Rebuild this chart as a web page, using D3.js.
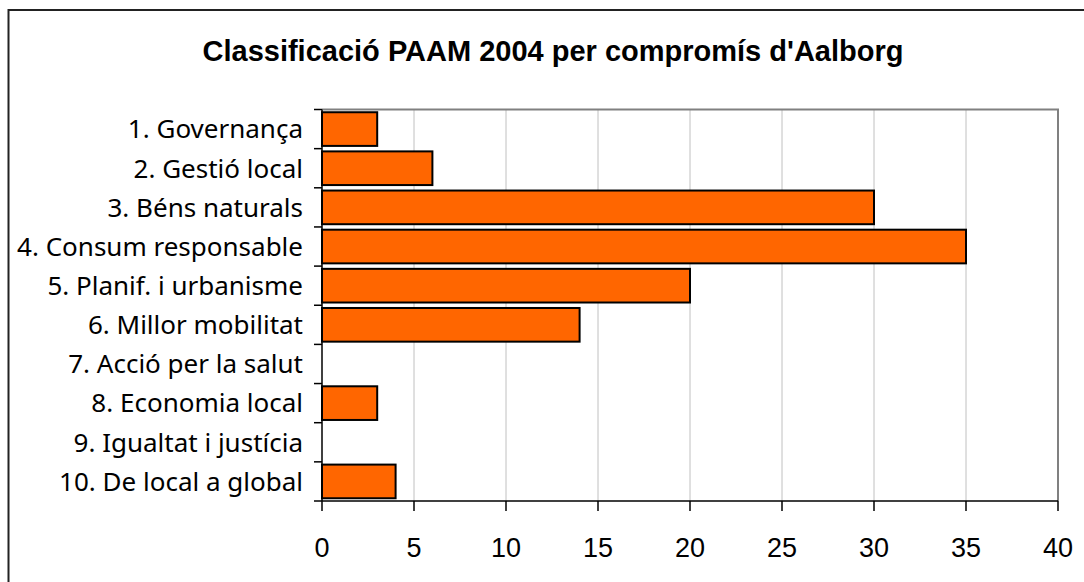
<!DOCTYPE html>
<html lang="ca">
<head>
<meta charset="utf-8" />
<title>Classificació PAAM 2004 per compromís d'Aalborg</title>
<script src="https://d3js.org/d3.v7.min.js"></script>
<style>
  html, body { margin: 0; padding: 0; background: #fff; overflow: hidden; }
  svg { display: block; }
</style>
</head>
<body>
<script>
// data
const categories = [
  "1. Governança",
  "2. Gestió local",
  "3. Béns naturals",
  "4. Consum responsable",
  "5. Planif. i urbanisme",
  "6. Millor mobilitat",
  "7. Acció per la salut",
  "8. Economia local",
  "9. Igualtat i justícia",
  "10. De local a global"
];
const values = [3, 6, 30, 35, 20, 14, 0, 3, 0, 4];
const xTicks = [0, 5, 10, 15, 20, 25, 30, 35, 40];

const W = 1084, H = 582;
const plot = { left: 322, right: 1058, top: 109.5, bottom: 501 };

const svg = d3.select("body").append("svg")
  .attr("width", W).attr("height", H);

// outer frame (right & bottom edges fall outside the picture)
svg.append("rect")
  .attr("x", 8.5).attr("y", 10)
  .attr("width", 1090).attr("height", 600)
  .attr("fill", "#fff").attr("stroke", "#222").attr("stroke-width", 2);

svg.append("text")
  .attr("x", 553).attr("y", 61)
  .attr("text-anchor", "middle")
  .style("font-family", "'Liberation Sans', Arial, sans-serif")
  .style("font-weight", "bold")
  .style("font-size", "29px")
  .text("Classificació PAAM 2004 per compromís d'Aalborg");

const x = d3.scaleLinear().domain([0, 40]).range([plot.left, plot.right]);
const y = d3.scaleBand().domain(categories).range([plot.top, plot.bottom]).paddingInner(0.14).paddingOuter(0.07);
const yEdge = d3.scaleLinear().domain([0, categories.length]).range([plot.top, plot.bottom]);

// gridlines
svg.append("g").selectAll("line")
  .data(xTicks.slice(1, -1))
  .enter().append("line")
  .attr("x1", d => x(d)).attr("x2", d => x(d))
  .attr("y1", plot.top).attr("y2", plot.bottom)
  .attr("stroke", "#c0c0c0").attr("stroke-width", 1);

// plot frame: top & right gray
svg.append("path")
  .attr("d", `M${plot.left},${plot.top}H${plot.right}V${plot.bottom}`)
  .attr("fill", "none").attr("stroke", "#808080").attr("stroke-width", 2);

// bars
svg.append("g").selectAll("rect")
  .data(values.map((v, i) => ({ v, c: categories[i] })).filter(d => d.v > 0))
  .enter().append("rect")
  .attr("x", x(0))
  .attr("y", d => y(d.c))
  .attr("width", d => x(d.v) - x(0))
  .attr("height", y.bandwidth())
  .attr("fill", "#ff6600")
  .attr("stroke", "#000").attr("stroke-width", 2);

// y axis line + ticks at band edges
const yAxis = svg.append("g");
yAxis.append("line")
  .attr("x1", plot.left).attr("x2", plot.left)
  .attr("y1", plot.top).attr("y2", plot.bottom)
  .attr("stroke", "#000").attr("stroke-width", 1.5);
yAxis.selectAll(".yt")
  .data(d3.range(categories.length + 1))
  .enter().append("line")
  .attr("x1", plot.left - 8).attr("x2", plot.left)
  .attr("y1", d => yEdge(d)).attr("y2", d => yEdge(d))
  .attr("stroke", "#000").attr("stroke-width", 1.5);
yAxis.selectAll("text")
  .data(categories)
  .enter().append("text")
  .attr("x", 303)
  .attr("y", d => y(d) + y.bandwidth() / 2)
  .attr("dy", "0.36em")
  .attr("text-anchor", "end")
  .style("font-family", "'Noto Sans', Tahoma, sans-serif")
  .style("font-size", "26px")
  .attr("fill", "#000")
  .text(d => d);

// x axis
const xAxis = svg.append("g");
xAxis.append("line")
  .attr("x1", plot.left).attr("x2", plot.right)
  .attr("y1", plot.bottom).attr("y2", plot.bottom)
  .attr("stroke", "#000").attr("stroke-width", 1.5);
xAxis.selectAll(".xt")
  .data(xTicks)
  .enter().append("line")
  .attr("x1", d => x(d)).attr("x2", d => x(d))
  .attr("y1", plot.bottom).attr("y2", plot.bottom + 10)
  .attr("stroke", "#000").attr("stroke-width", 1.5);
xAxis.selectAll("text")
  .data(xTicks)
  .enter().append("text")
  .attr("x", d => x(d))
  .attr("y", 557)
  .attr("text-anchor", "middle")
  .style("font-family", "'Liberation Sans', Arial, sans-serif")
  .style("font-size", "27px")
  .attr("fill", "#000")
  .text(d => d);
</script>
</body>
</html>
